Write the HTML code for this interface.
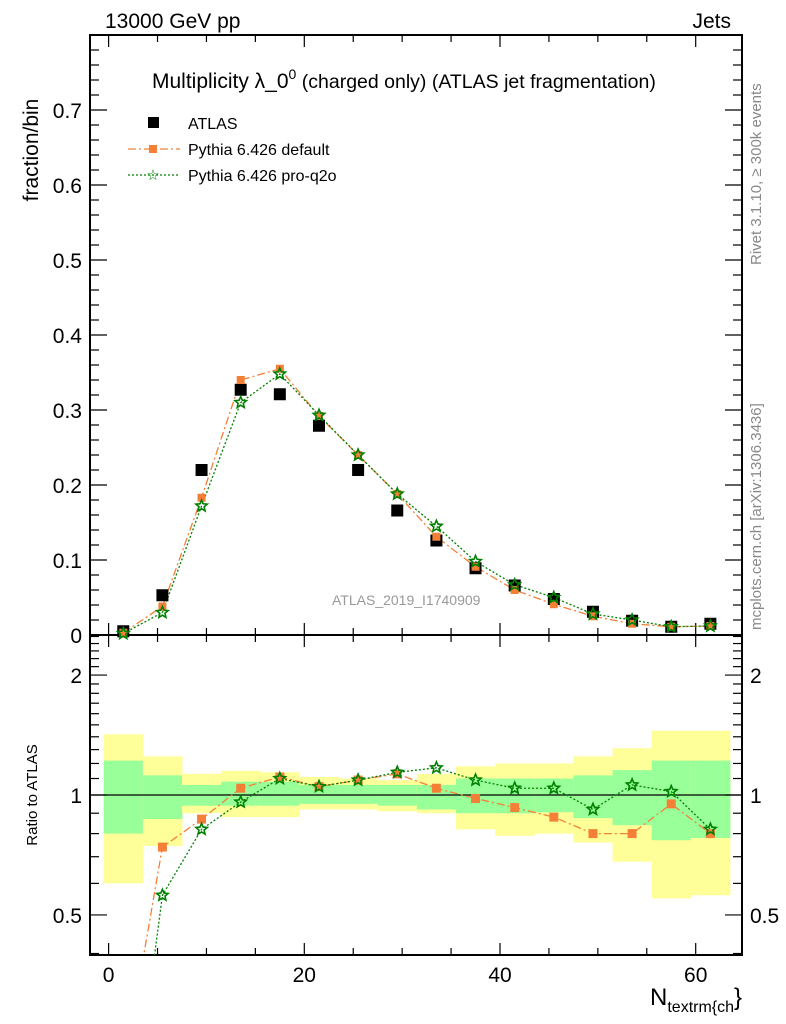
<!DOCTYPE html>
<html><head><meta charset="utf-8"><style>
html,body{margin:0;padding:0;background:#fff;overflow:hidden;width:786px;height:1024px}
svg{display:block}
svg text{font-family:"Liberation Sans",sans-serif}
</style></head><body>
<svg id="c" width="786" height="1024" xmlns="http://www.w3.org/2000/svg">
<rect width="786" height="1024" fill="#fff"/>
<text x="105" y="28" font-size="21">13000 GeV pp</text>
<text x="731" y="28" font-size="21" text-anchor="end">Jets</text>
<text x="152" y="88" font-size="21">Multiplicity λ_0<tspan dy="-9" font-size="14">0</tspan><tspan dy="9" font-size="19.5"> (charged only) (ATLAS jet fragmentation)</tspan></text>
<text transform="translate(38,150) rotate(-90)" font-size="21" text-anchor="middle">fraction/bin</text>
<text transform="translate(37,795) rotate(-90)" font-size="15" text-anchor="middle">Ratio to ATLAS</text>
<text transform="translate(761,265) rotate(-90)" font-size="15" fill="#888">Rivet 3.1.10, ≥ 300k events</text>
<text transform="translate(761,630) rotate(-90)" font-size="15" fill="#888">mcplots.cern.ch [arXiv:1306.3436]</text>
<text x="332" y="605" font-size="14" fill="#999">ATLAS_2019_I1740909</text>
<text x="650" y="1005" font-size="24">N<tspan font-size="16" dy="7">textrm{ch</tspan><tspan dy="-7" font-size="24">}</tspan></text>
<g>
<rect x="148" y="117" width="11" height="11" fill="#000"/>
<text x="188" y="129" font-size="16">ATLAS</text>
<line x1="128" y1="149" x2="180" y2="149" stroke="#f48038" stroke-width="1.3" stroke-dasharray="8,3,2,3"/>
<rect x="149" y="145" width="8" height="8" fill="#f48038"/>
<text x="188" y="155" font-size="16">Pythia 6.426 default</text>
<line x1="128" y1="175" x2="180" y2="175" stroke="#008000" stroke-width="1.3" stroke-dasharray="2,2"/>
<text x="153" y="180" font-size="15" fill="#008000" text-anchor="middle">☆</text>
<text x="188" y="181" font-size="16">Pythia 6.426 pro-q2o</text>
</g>
<g id="g"></g>
</svg>
<script>
const xs=[1.5,5.5,9.5,13.5,17.5,21.5,25.5,29.5,33.5,37.5,41.5,45.5,49.5,53.5,57.5,61.5];
const atlas=[0.005,0.053,0.22,0.327,0.321,0.279,0.22,0.166,0.126,0.089,0.066,0.048,0.031,0.019,0.011,0.015];
const pyDef=[0.003,0.038,0.183,0.34,0.355,0.292,0.24,0.188,0.131,0.091,0.06,0.041,0.025,0.015,0.011,0.012];
const pyPro=[0.002,0.03,0.172,0.31,0.348,0.293,0.24,0.188,0.145,0.098,0.067,0.05,0.028,0.02,0.011,0.012];
const ratioDef=[0.2,0.74,0.87,1.04,1.11,1.05,1.09,1.13,1.04,0.98,0.93,0.88,0.80,0.80,0.95,0.80];
const ratioPro=[0.1,0.56,0.82,0.96,1.10,1.05,1.09,1.14,1.17,1.09,1.04,1.04,0.92,1.06,1.02,0.82];
const yelHi=[1.42,1.25,1.13,1.15,1.14,1.11,1.10,1.09,1.13,1.18,1.20,1.20,1.25,1.31,1.45,1.45];
const yelLo=[0.60,0.745,0.90,0.88,0.88,0.92,0.92,0.91,0.90,0.82,0.79,0.80,0.76,0.68,0.55,0.56];
const grnHi=[1.22,1.12,1.06,1.08,1.08,1.06,1.06,1.06,1.06,1.10,1.10,1.10,1.12,1.155,1.22,1.22];
const grnLo=[0.80,0.87,0.94,0.94,0.94,0.95,0.95,0.94,0.92,0.90,0.90,0.905,0.875,0.84,0.77,0.78];
const mainTicks=["0","0.1","0.2","0.3","0.4","0.5","0.6","0.7"];
const NS="http://www.w3.org/2000/svg";
const G=document.getElementById('g');
const L=90,R=742,T=35,MB=635,RB=955;
const X=v=>108.6+9.785*v;
const Y=v=>635-750*v;
const RY=r=>795-173*Math.log(r);
function el(t,a,p){const e=document.createElementNS(NS,t);for(const k in a)e.setAttribute(k,a[k]);(p||G).appendChild(e);return e;}
const bands=el('g',{'clip-path':'url(#rc)'});
const cp=el('clipPath',{id:'rc'});el('rect',{x:L,y:MB,width:R-L,height:RB-MB},cp);
xs.forEach((x,i)=>{
 const b=el('rect',{x:X(x-2),y:RY(yelHi[i]),width:X(x+2)-X(x-2)+0.5,height:RY(yelLo[i])-RY(yelHi[i]),fill:'#ffff99'},bands);
 
 
 const g2=el('rect',{x:X(x-2),y:RY(grnHi[i]),width:X(x+2)-X(x-2)+0.5,height:RY(grnLo[i])-RY(grnHi[i]),fill:'#99ff99'},bands);
 
 
});
el('line',{x1:L,x2:R,y1:RY(1),y2:RY(1),stroke:'#000','stroke-width':1.2});
el('rect',{x:L,y:T,width:R-L,height:MB-T,fill:'none',stroke:'#000','stroke-width':2});
el('rect',{x:L,y:MB,width:R-L,height:RB-MB,fill:'none',stroke:'#000','stroke-width':2});
for(let v=0;v<=64;v+=5){const maj=v%20==0,len=maj?12:7;
 [[MB,1],[T,-1]].forEach(([y0,d])=>el('line',{x1:X(v),x2:X(v),y1:y0,y2:y0-d*len,stroke:'#000','stroke-width':1.2}));
 [[RB,1],[MB,-1]].forEach(([y0,d])=>el('line',{x1:X(v),x2:X(v),y1:y0,y2:y0-d*len,stroke:'#000','stroke-width':1.2}));
 if(maj){const t=el('text',{x:X(v),y:982,'font-size':21,'text-anchor':'middle'});t.textContent=v;
 
 }
}
for(let k=0;k<=40;k++){const v=k*0.02,y=Y(v);if(y<T)break;const maj=k%5==0,len=maj?17:9;
 el('line',{x1:L,x2:L+len,y1:y,y2:y,stroke:'#000','stroke-width':1.2});
 el('line',{x1:R,x2:R-len,y1:y,y2:y,stroke:'#000','stroke-width':1.2});
 if(maj){const t=el('text',{x:82,y:y+8,'font-size':21,'text-anchor':'end'});t.textContent=mainTicks[k/5];
 
 }
}
[0.4,0.5,0.6,0.7,0.8,0.9,1,1.1,1.2,1.3,1.4,1.5,1.6,1.7,1.8,1.9,2,2.1,2.2,2.3,2.4,2.5].forEach(r=>{
 const y=RY(r);if(y<MB||y>RB)return;const maj=(r==0.5||r==1||r==2),len=maj?17:9;
 el('line',{x1:L,x2:L+len,y1:y,y2:y,stroke:'#000','stroke-width':1.2});
 el('line',{x1:R,x2:R-len,y1:y,y2:y,stroke:'#000','stroke-width':1.2});
 if(maj){[[82,'end'],[750,'start']].forEach(([tx,a])=>{const t=el('text',{x:tx,y:y+8,'font-size':21,'text-anchor':a});t.textContent=r;
 
 });}
});
function star(cx,cy,r,p,col){let pts=[];for(let i=0;i<10;i++){const a=-Math.PI/2+i*Math.PI/5,rr=i%2?r*0.45:r;pts.push((cx+rr*Math.cos(a)).toFixed(1)+','+(cy+rr*Math.sin(a)).toFixed(1));}
 return el('polygon',{points:pts.join(' '),fill:'none',stroke:col,'stroke-width':1.6},p);}
const pl=(vals,fy,col,dash)=>el('polyline',{points:xs.map((x,i)=>X(x)+','+fy(vals[i])).join(' '),fill:'none',stroke:col,'stroke-width':1.3,'stroke-dasharray':dash});
let l1=pl(pyDef,Y,'#f48038','8,3,2,3');
let l2=pl(pyPro,Y,'#008000','2,2');
xs.forEach((x,i)=>{
 const a=el('rect',{x:X(x)-6,y:Y(atlas[i])-6,width:12,height:12,fill:'#000'});
 
 
 const d=el('rect',{x:X(x)-4,y:Y(pyDef[i])-4,width:8,height:8,fill:'#f48038'});
 
 
 const s=star(X(x),Y(pyPro[i]),6,G,'#008000');
 
 
});
const rg=el('g',{'clip-path':'url(#rc)'});
let r1=el('polyline',{points:xs.map((x,i)=>X(x)+','+RY(ratioDef[i])).join(' '),fill:'none',stroke:'#f48038','stroke-width':1.3,'stroke-dasharray':'8,3,2,3'},rg);

let r2=el('polyline',{points:xs.map((x,i)=>X(x)+','+RY(ratioPro[i])).join(' '),fill:'none',stroke:'#008000','stroke-width':1.3,'stroke-dasharray':'2,2'},rg);

xs.forEach((x,i)=>{
 const d=el('rect',{x:X(x)-4.5,y:RY(ratioDef[i])-4.5,width:9,height:9,fill:'#f48038'},rg);
 
 
 const s=star(X(x),RY(ratioPro[i]),6,rg,'#008000');
 
 
});
</script>
</body></html>
